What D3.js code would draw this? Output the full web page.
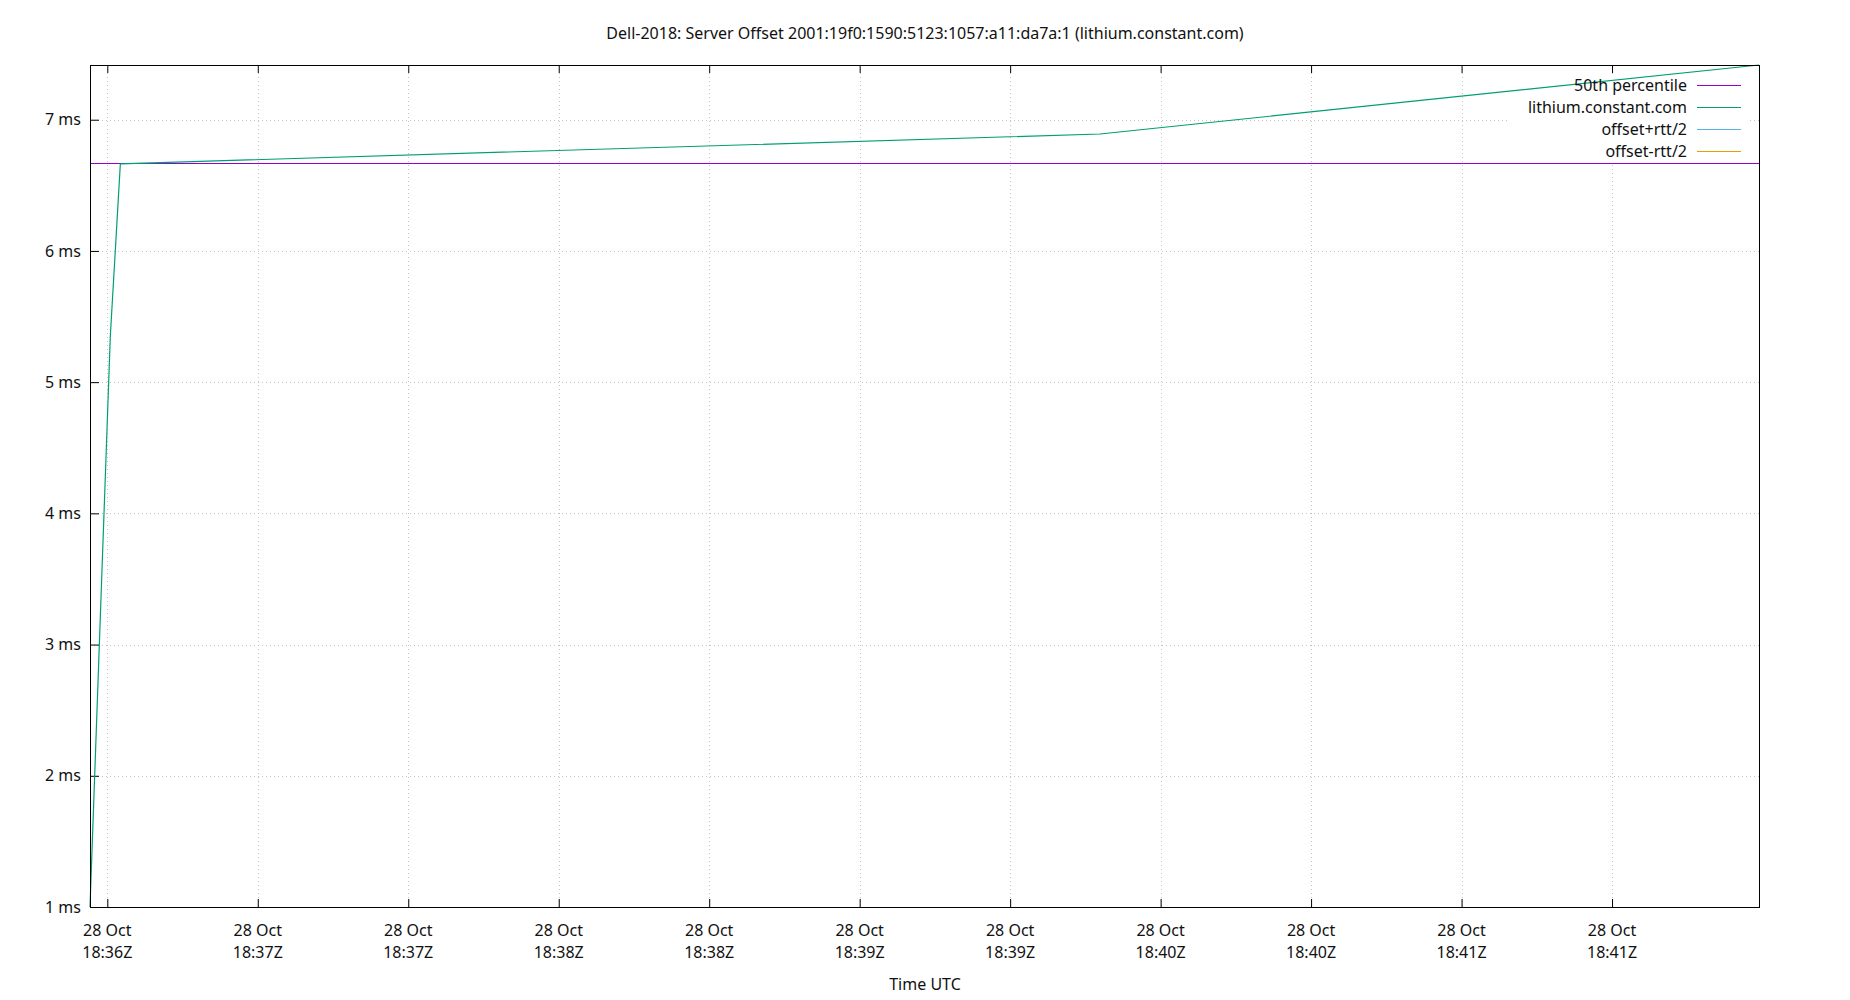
<!DOCTYPE html>
<html>
<head>
<meta charset="utf-8">
<script src="https://cdn.jsdelivr.net/npm/d3@7"></script>
<style>
  html, body { margin: 0; padding: 0; background: #fff; }
  svg { display: block; font-family: "Noto Sans", "Open Sans", sans-serif; }
</style>
</head>
<body>
<svg id="chart" width="1850" height="1000"></svg>
<script>
// ---- data ----
const titleText = "Dell-2018: Server Offset 2001:19f0:1590:5123:1057:a11:da7a:1 (lithium.constant.com)";
const xAxisTitle = "Time UTC";
const sampleTimes = [
  "2018-10-28T18:36:26.550Z",
  "2018-10-28T18:36:30.600Z",
  "2018-10-28T18:36:32.600Z",
  "2018-10-28T18:39:47.900Z",
  "2018-10-28T18:41:59.300Z"
];
const offsetMs = [1.0, 5.35, 6.664, 6.891, 7.417];
const percentile50Ms = 6.664;
const yTickValues = [1, 2, 3, 4, 5, 6, 7];
const legendLabels = ["50th percentile", "lithium.constant.com", "offset+rtt/2", "offset-rtt/2"];
const legendColors = ["#9400d3", "#009e73", "#56b4e9", "#e69f00"];

// ---- layout ----
const svg = d3.select("#chart");
const L = 90, R = 1759, T = 65, B = 907;
const FS = 16;

const times = sampleTimes.map(s => new Date(s));
const pts = times.map((t, i) => ({ t, v: offsetMs[i] }));

const x = d3.scaleUtc().domain(d3.extent(times)).range([L, R]);
const y = d3.scaleLinear().domain([1.0, d3.max(offsetMs)]).range([B, T]);

const xTicks = x.ticks(d3.utcSecond.every(30));
const fmtDay = d3.utcFormat("%-d %b");
const fmtTime = d3.utcFormat("%H:%MZ");

// grid
const grid = svg.append("g").attr("stroke", "#c4c4c4").attr("stroke-width", 1).attr("stroke-dasharray", "1,3");
grid.selectAll("line.gx").data(xTicks).join("line")
  .attr("x1", d => Math.round(x(d)) + 0.5).attr("x2", d => Math.round(x(d)) + 0.5)
  .attr("y1", T).attr("y2", B);
grid.selectAll("line.gy").data(yTickValues).join("line")
  .attr("y1", d => Math.round(y(d)) + 0.5).attr("y2", d => Math.round(y(d)) + 0.5)
  .attr("x1", L).attr("x2", R);

// legend background (opaque key)
svg.append("rect").attr("x", 1507).attr("y", 74).attr("width", 241).attr("height", 88).attr("fill", "#fff");

// axes via d3
const xAxisBottom = d3.axisBottom(x).tickValues(xTicks).tickSize(-8).tickFormat("");
const xAxisTop = d3.axisTop(x).tickValues(xTicks).tickSize(-8).tickFormat("");
const yAxisLeft = d3.axisLeft(y).tickValues(yTickValues).tickSize(-9).tickFormat("");

svg.append("g").attr("transform", `translate(0,${B})`).call(xAxisBottom)
  .call(g => g.select(".domain").remove());
svg.append("g").attr("transform", `translate(0,${T})`).call(xAxisTop)
  .call(g => g.select(".domain").remove());
svg.append("g").attr("transform", `translate(${L},0)`).call(yAxisLeft)
  .call(g => g.select(".domain").remove());
svg.selectAll(".tick line").attr("stroke", "#000").attr("stroke-width", 1);

// x tick labels (two lines)
const xl = svg.append("g").attr("font-size", FS).attr("fill", "#111").attr("text-anchor", "middle");
xTicks.forEach(d => {
  const t = xl.append("text").attr("x", x(d)).attr("y", 936);
  t.append("tspan").attr("x", x(d)).text(fmtDay(d));
  t.append("tspan").attr("x", x(d)).attr("y", 958).text(fmtTime(d));
});

// y tick labels
svg.append("g").attr("font-size", FS).attr("fill", "#111").attr("text-anchor", "end")
  .selectAll("text").data(yTickValues).join("text")
  .attr("x", 81).attr("y", d => y(d)).attr("dy", "0.35em")
  .text(d => `${d} ms`);

// data lines
const line = d3.line().x(d => x(d.t)).y(d => y(d.v));
svg.append("path").datum(pts.map(p => ({ t: p.t, v: percentile50Ms })))
  .attr("d", line).attr("fill", "none").attr("stroke", legendColors[0]).attr("stroke-width", 1.3)
  .attr("shape-rendering", "crispEdges");
svg.append("path").datum(pts)
  .attr("d", line).attr("fill", "none").attr("stroke", legendColors[1]).attr("stroke-width", 1.2);

// border
svg.append("rect").attr("x", L + 0.5).attr("y", T + 0.5).attr("width", R - L).attr("height", B - T)
  .attr("fill", "none").attr("stroke", "#000").attr("stroke-width", 1);

// legend
const lg = svg.append("g").attr("font-size", FS).attr("fill", "#111");
legendLabels.forEach((lab, i) => {
  const yy = 85.5 + i * 22;
  lg.append("text").attr("x", 1687).attr("y", yy).attr("dy", "0.35em").attr("text-anchor", "end").text(lab);
  lg.append("line").attr("x1", 1697).attr("x2", 1741).attr("y1", yy).attr("y2", yy)
    .attr("stroke", legendColors[i]).attr("stroke-width", 1.3).attr("shape-rendering", "crispEdges");
});

// titles
svg.append("text").attr("x", 925).attr("y", 39).attr("text-anchor", "middle")
  .attr("font-size", FS).attr("fill", "#111").text(titleText);
svg.append("text").attr("x", 925).attr("y", 990).attr("text-anchor", "middle")
  .attr("font-size", FS).attr("fill", "#111").text(xAxisTitle);
</script>
</body>
</html>
